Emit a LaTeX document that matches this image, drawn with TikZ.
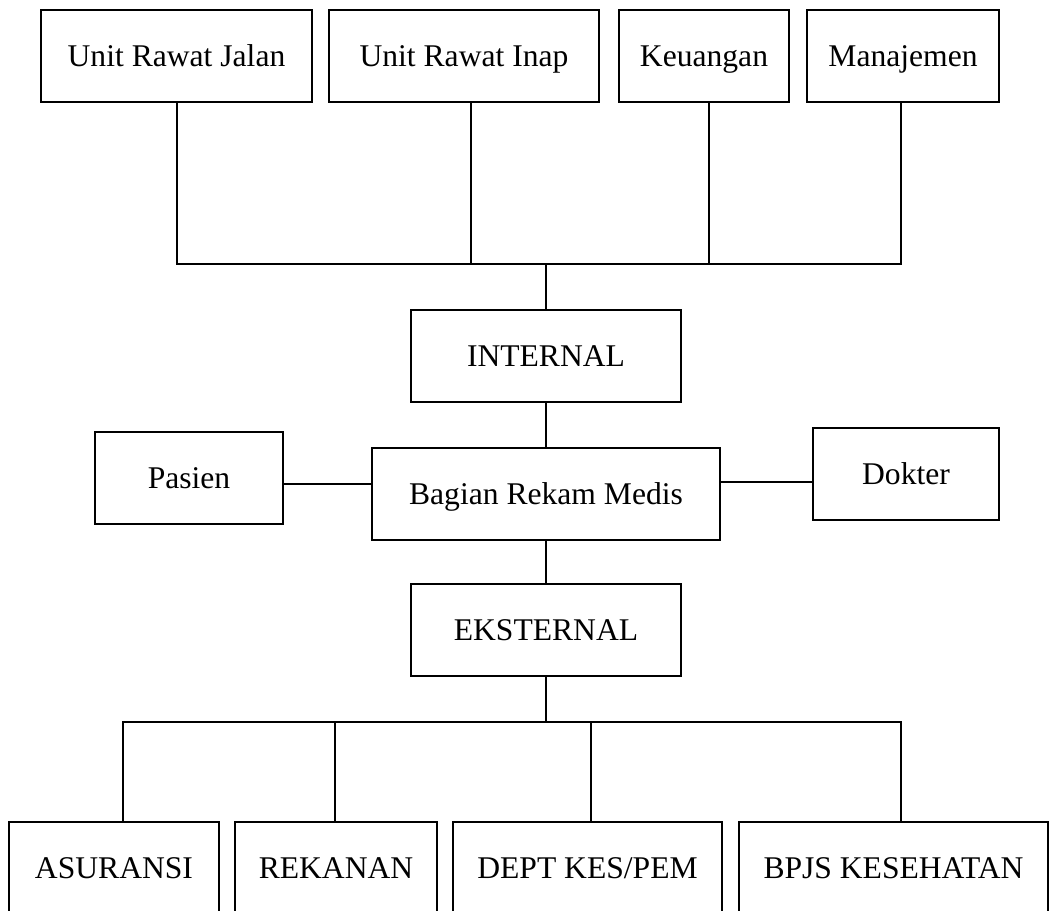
\documentclass[tikz,border=0pt]{standalone}
\usepackage{fontspec}
\setmainfont{Liberation Serif}

\begin{document}
\begin{tikzpicture}[
    x=0.5pt, y=-0.5pt,
    line width=0.7pt,
    every node/.style={font=\fontsize{15.8pt}{19pt}\selectfont},
    unitbox/.style={
        draw, minimum height=46pt,
        inner sep=0pt, align=center,
        text height=14.6pt, text depth=3.8pt
    },
    bagbox/.style={
        draw, minimum height=46pt,
        inner sep=0pt, align=center,
        text height=14.6pt, text depth=3.8pt
    },
    pihakbox/.style={
        draw, minimum height=46pt,
        inner sep=0pt, align=center,
        text height=14.6pt, text depth=3.8pt
    }
]
\useasboundingbox (0,0) rectangle (1049,910);
\clip (0,0) rectangle (1049,910);

% ----------------------------------------------------------
% Baris atas: unit-unit internal rumah sakit
% ----------------------------------------------------------
\node[unitbox, minimum width=135.5pt] (urj) at (176.5, 56) {Unit Rawat Jalan};
\node[unitbox, minimum width=135pt]   (uri) at (464,   56) {Unit Rawat Inap};
\node[unitbox, minimum width=85pt]    (keu) at (704,   56) {Keuangan};
\node[unitbox, minimum width=96pt]    (man) at (903,   56) {Manajemen};

% ----------------------------------------------------------
% Kolom tengah: INTERNAL | Bagian Rekam Medis | EKSTERNAL
% ----------------------------------------------------------
\node[bagbox, minimum width=135pt] (int) at (546, 356) {INTERNAL};
\node[bagbox, minimum width=174pt] (brm) at (546, 494) {Bagian Rekam Medis};
\node[bagbox, minimum width=135pt] (eks) at (546, 630) {EKSTERNAL};

\node[bagbox, minimum width=94pt] (pas) at (189, 478) {Pasien};
\node[bagbox, minimum width=93pt] (dok) at (906, 474) {Dokter};

% ----------------------------------------------------------
% Baris bawah: pihak eksternal
% ----------------------------------------------------------
\node[pihakbox, minimum width=105pt]   (asr)  at (114,   868) {ASURANSI};
\node[pihakbox, minimum width=101pt]   (rek)  at (336,   868) {REKANAN};
\node[pihakbox, minimum width=134.5pt] (dept) at (587.5, 868) {DEPT KES/PEM};
\node[pihakbox, minimum width=154.5pt] (bpjs) at (893.5, 868) {BPJS KESEHATAN};

% Garis penghubung atas (y = 264)
\coordinate (ta) at (546, 264);
\coordinate (t1) at (177, 264);
\coordinate (t2) at (471, 264);
\coordinate (t3) at (709, 264);
\coordinate (t4) at (901, 264);
\draw (t1 |- urj.south) -- (t1) -- (t4) -- (t4 |- man.south);
\draw (t2 |- uri.south) -- (t2);
\draw (t3 |- keu.south) -- (t3);
\draw (ta) -- (int.north);

% Garis tengah
\draw (int.south) -- (brm.north);
\draw (brm.south) -- (eks.north);
\coordinate (kr) at (283, 484);
\coordinate (kn) at (813, 482);
\draw (kr) -- (kr -| brm.west);
\draw (kn -| brm.east) -- (kn);

% Garis penghubung bawah (y = 722)
\coordinate (ba) at (546, 722);
\coordinate (b1) at (123, 722);
\coordinate (b2) at (335, 722);
\coordinate (b3) at (591, 722);
\coordinate (b4) at (901, 722);
\draw (eks.south) -- (ba);
\draw (b1 |- asr.north) -- (b1) -- (b4) -- (b4 |- bpjs.north);
\draw (b2) -- (b2 |- rek.north);
\draw (b3) -- (b3 |- dept.north);

\end{tikzpicture}
\end{document}
